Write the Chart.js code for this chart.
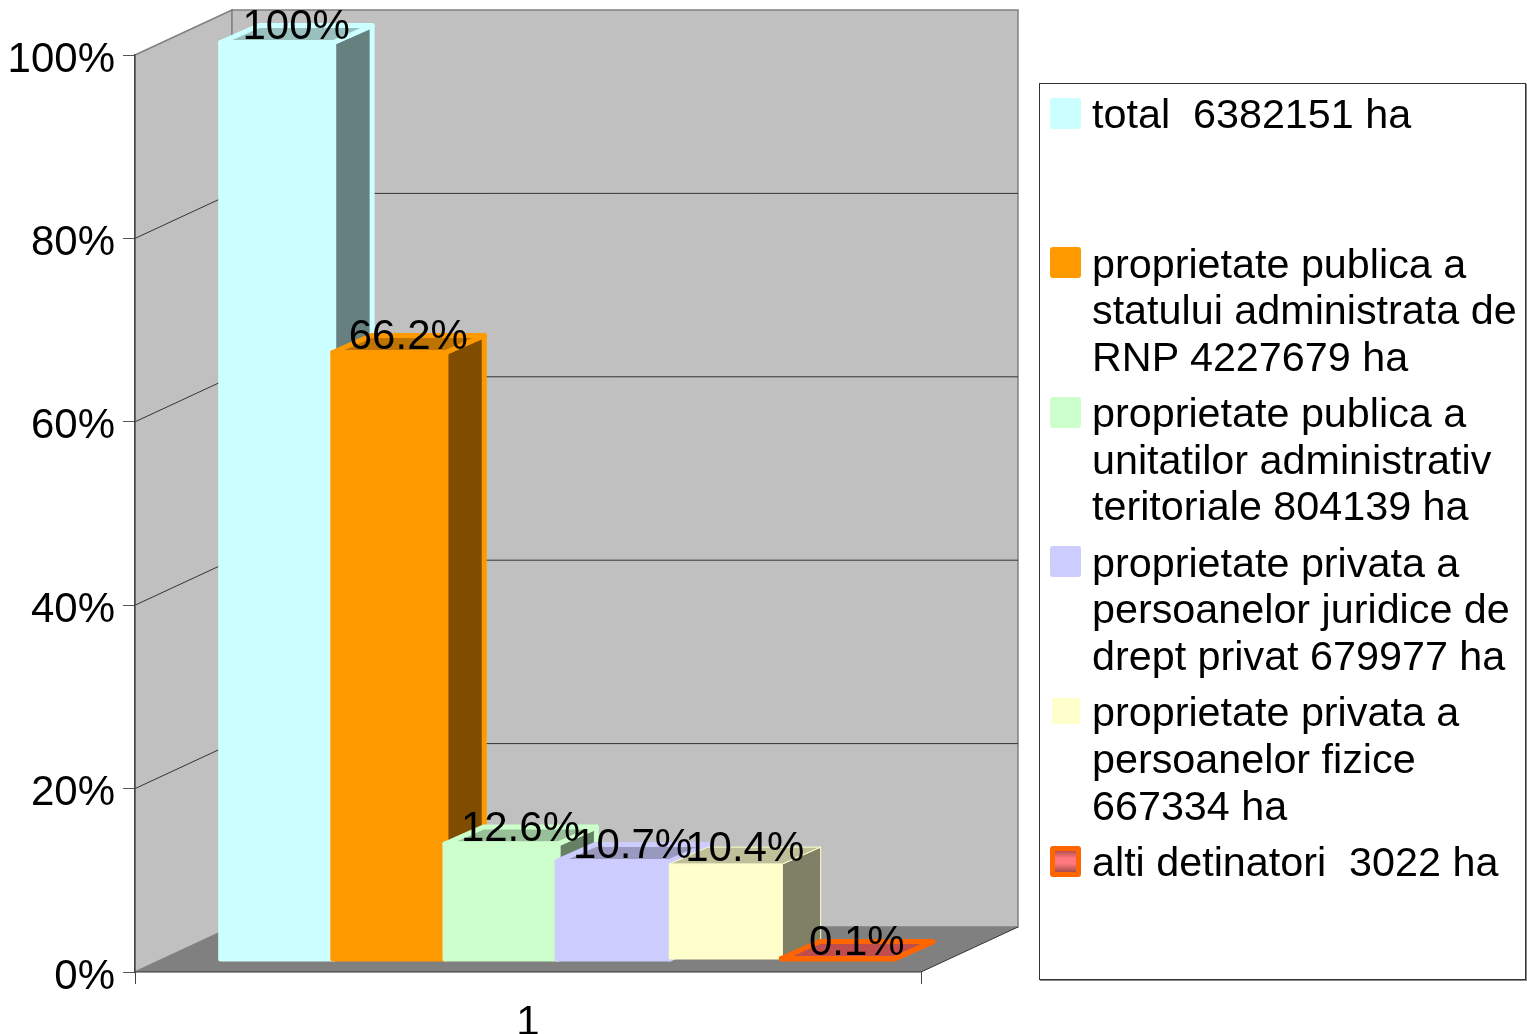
<!DOCTYPE html>
<html>
<head>
<meta charset="utf-8">
<script src="https://cdn.jsdelivr.net/npm/chart.js@4"></script>
<style>
html,body{margin:0;padding:0;background:#fff;}
#wrap{position:relative;width:1527px;height:1034px;overflow:hidden;font-family:"Liberation Sans",Arial,sans-serif;}
canvas{position:absolute;left:0;top:0;}
#legend{position:absolute;left:1039px;top:83px;width:485px;height:895px;border:1px solid #333;box-shadow:1px 1px 0 #888;background:#fff;}
.sw{position:absolute;left:10px;width:31px;height:31px;border-radius:3px;box-sizing:border-box;}
.ln{position:absolute;left:52px;font-size:41.3px;line-height:46px;white-space:pre;color:#000;}
</style>
</head>
<body>
<div id="wrap">
<canvas id="c" width="1527" height="1034"></canvas>
<div id="legend"></div>
</div>
<script>
const categories = ["1"];
const seriesLegend = [
  ["total  6382151 ha"],
  ["proprietate publica a", "statului administrata de", "RNP 4227679 ha"],
  ["proprietate publica a", "unitatilor administrativ", "teritoriale 804139 ha"],
  ["proprietate privata a", "persoanelor juridice de", "drept privat 679977 ha"],
  ["proprietate privata a", "persoanelor fizice", "667334 ha"],
  ["alti detinatori  3022 ha"]
];
const seriesValues = [100, 66.2, 12.6, 10.7, 10.4, 0.1];
const seriesLabels = ["100%", "66.2%", "12.6%", "10.7%", "10.4%", "0.1%"];
const fillColors = ["#ccffff", "#ff9900", "#ccffcc", "#ccccff", "#ffffcc", "#ff6666"];
const edgeColors = ["#ccffff", "#ff9900", "#ccffcc", "#ccccff", "#ffffcc", "#ff6600"];
const edgeWidths = [5, 5, 5, 5, 1, 5];
const yTicks = [0, 20, 40, 60, 80, 100];

// 3D projection offsets
const WALL = {dx: 97, dy: -45};
const BAR_SHIFT = {dx: 29.5, dy: -12.5};
const BAR_DEPTH = {dx: 38.5, dy: -17};
const LABEL_OFF = {dx: 19, dy: -15};

function shade(hex, f) {
  const n = parseInt(hex.slice(1), 16);
  const r = Math.round((n >> 16 & 255) * f), g = Math.round((n >> 8 & 255) * f), b = Math.round((n & 255) * f);
  return `rgb(${r},${g},${b})`;
}
function poly(ctx, pts) {
  ctx.beginPath();
  pts.forEach((p, i) => i ? ctx.lineTo(p[0], p[1]) : ctx.moveTo(p[0], p[1]));
  ctx.closePath();
}

const walls3d = {
  id: 'walls3d',
  beforeDraw(chart) {
    const {ctx, chartArea: a, scales: {y}} = chart;
    const d = WALL;
    const y0 = y.getPixelForValue(0), y1 = y.getPixelForValue(100);
    ctx.save();
    ctx.fillStyle = '#c0c0c0';
    ctx.strokeStyle = '#808080';
    ctx.lineWidth = 1.5;
    poly(ctx, [[a.left, y1], [a.left + d.dx, y1 + d.dy], [a.left + d.dx, y0 + d.dy], [a.left, y0]]);
    ctx.fill(); ctx.stroke();
    poly(ctx, [[a.left + d.dx, y1 + d.dy], [a.right + d.dx, y1 + d.dy], [a.right + d.dx, y0 + d.dy], [a.left + d.dx, y0 + d.dy]]);
    ctx.fill(); ctx.stroke();
    ctx.fillStyle = '#808080';
    poly(ctx, [[a.left, y0], [a.right, y0], [a.right + d.dx, y0 + d.dy], [a.left + d.dx, y0 + d.dy]]);
    ctx.fill();
    ctx.strokeStyle = '#333';
    ctx.lineWidth = 1;
    ctx.beginPath();
    ctx.moveTo(a.right, y0); ctx.lineTo(a.right + d.dx, y0 + d.dy);
    ctx.moveTo(a.left, y0); ctx.lineTo(a.right, y0);
    ctx.stroke();
    yTicks.slice(1, -1).forEach(v => {
      const py = y.getPixelForValue(v);
      ctx.beginPath();
      ctx.moveTo(a.left, py);
      ctx.lineTo(a.left + d.dx, py + d.dy);
      ctx.lineTo(a.right + d.dx, py + d.dy);
      ctx.stroke();
    });
    ctx.restore();
  }
};

const bars3d = {
  id: 'bars3d',
  // default right-to-left dataset painting is cancelled; the plugin asks each
  // bar controller to paint itself left to right so nearer bars overlap correctly
  beforeDatasetDraw() { return false; },
  beforeDatasetsDraw(chart) {
    const {ctx} = chart;
    const d = BAR_DEPTH;
    seriesValues.forEach((v, i) => {
      const meta = chart.getDatasetMeta(i);
      const el = meta.data[0];
      const L = el.x - el.width / 2, R = el.x + el.width / 2, T = el.y, B = el.base;
      ctx.save();
      ctx.translate(BAR_SHIFT.dx, BAR_SHIFT.dy);
      ctx.save();
      ctx.lineJoin = 'round';
      ctx.lineWidth = edgeWidths[i];
      ctx.strokeStyle = edgeColors[i];
      ctx.fillStyle = shade(fillColors[i], 0.5);
      poly(ctx, [[R, T], [R + d.dx, T + d.dy], [R + d.dx, B + d.dy], [R, B]]);
      ctx.fill(); ctx.stroke();
      ctx.fillStyle = shade(fillColors[i], 0.75);
      poly(ctx, [[L, T], [R, T], [R + d.dx, T + d.dy], [L + d.dx, T + d.dy]]);
      ctx.fill(); ctx.stroke();
      ctx.restore();
      meta.controller.draw();
      ctx.lineJoin = 'round';
      ctx.lineWidth = edgeWidths[i];
      ctx.strokeStyle = edgeColors[i];
      ctx.strokeRect(L, T, R - L, B - T);
      ctx.restore();
    });
  },
  afterDatasetsDraw(chart) {
    const {ctx} = chart;
    ctx.save();
    ctx.font = '42px "Liberation Sans"';
    ctx.fillStyle = '#000';
    ctx.textAlign = 'center';
    ctx.textBaseline = 'middle';
    seriesLabels.forEach((t, i) => {
      const el = chart.getDatasetMeta(i).data[0];
      ctx.fillText(t, el.x + BAR_SHIFT.dx + LABEL_OFF.dx, el.y + BAR_SHIFT.dy + LABEL_OFF.dy);
    });
    ctx.restore();
  }
};

new Chart(document.getElementById('c'), {
  type: 'bar',
  data: {
    labels: categories,
    datasets: seriesValues.map((v, i) => ({
      label: seriesLegend[i].join(' '),
      data: [v],
      backgroundColor: fillColors[i],
      borderWidth: 0,
      clip: false,
      inflateAmount: 0,
      categoryPercentage: 0.856,
      barPercentage: 1.007
    }))
  },
  options: {
    responsive: false,
    animation: false,
    events: [],
    layout: {padding: {top: 55, right: 606, left: 0, bottom: 0}},
    plugins: {legend: {display: false}, tooltip: {enabled: false}},
    scales: {
      x: {
        afterFit(s) { s.height = 62; },
        grid: {drawOnChartArea: false, color: '#444', tickLength: 12, lineWidth: 1},
        border: {display: false},
        ticks: {color: '#000', font: {family: '"Liberation Sans"', size: 42}, padding: 14, maxRotation: 0}
      },
      y: {
        min: 0, max: 100,
        afterFit(s) { s.width = 135; },
        afterBuildTicks(s) { s.ticks = yTicks.map(v => ({value: v})); },
        grid: {drawOnChartArea: false, color: '#555', tickLength: 12, lineWidth: 1},
        border: {display: true, color: '#444', width: 1.5},
        ticks: {color: '#000', font: {family: '"Liberation Sans"', size: 42}, padding: 8, labelOffset: 5, callback: v => v + '%'}
      }
    }
  },
  plugins: [walls3d, bars3d]
});

// legend
const legend = document.getElementById('legend');
seriesLegend.forEach((lines, i) => {
  const top0 = 7 + i * 149.6;
  const sw = document.createElement('div');
  sw.className = 'sw';
  sw.style.top = (top0 + 6.5) + 'px';
  if (i === seriesLegend.length - 1) {
    sw.style.border = '5px solid ' + edgeColors[i];
    sw.style.background = 'linear-gradient(#b85050,#ff7a80 35%,#ff7a80 60%,#a84a4a)';
  } else if (edgeWidths[i] < 5) {
    sw.style.background = fillColors[i];
    sw.style.left = '12px'; sw.style.width = '28px'; sw.style.height = '26px';
    sw.style.borderRadius = '0'; sw.style.top = (top0 + 9) + 'px';
  } else {
    sw.style.background = fillColors[i];
  }
  legend.appendChild(sw);
  lines.forEach((t, j) => {
    const ln = document.createElement('div');
    ln.className = 'ln';
    ln.style.top = (top0 + j * 46.6) + 'px';
    ln.textContent = t;
    legend.appendChild(ln);
  });
});
</script>
</body>
</html>
